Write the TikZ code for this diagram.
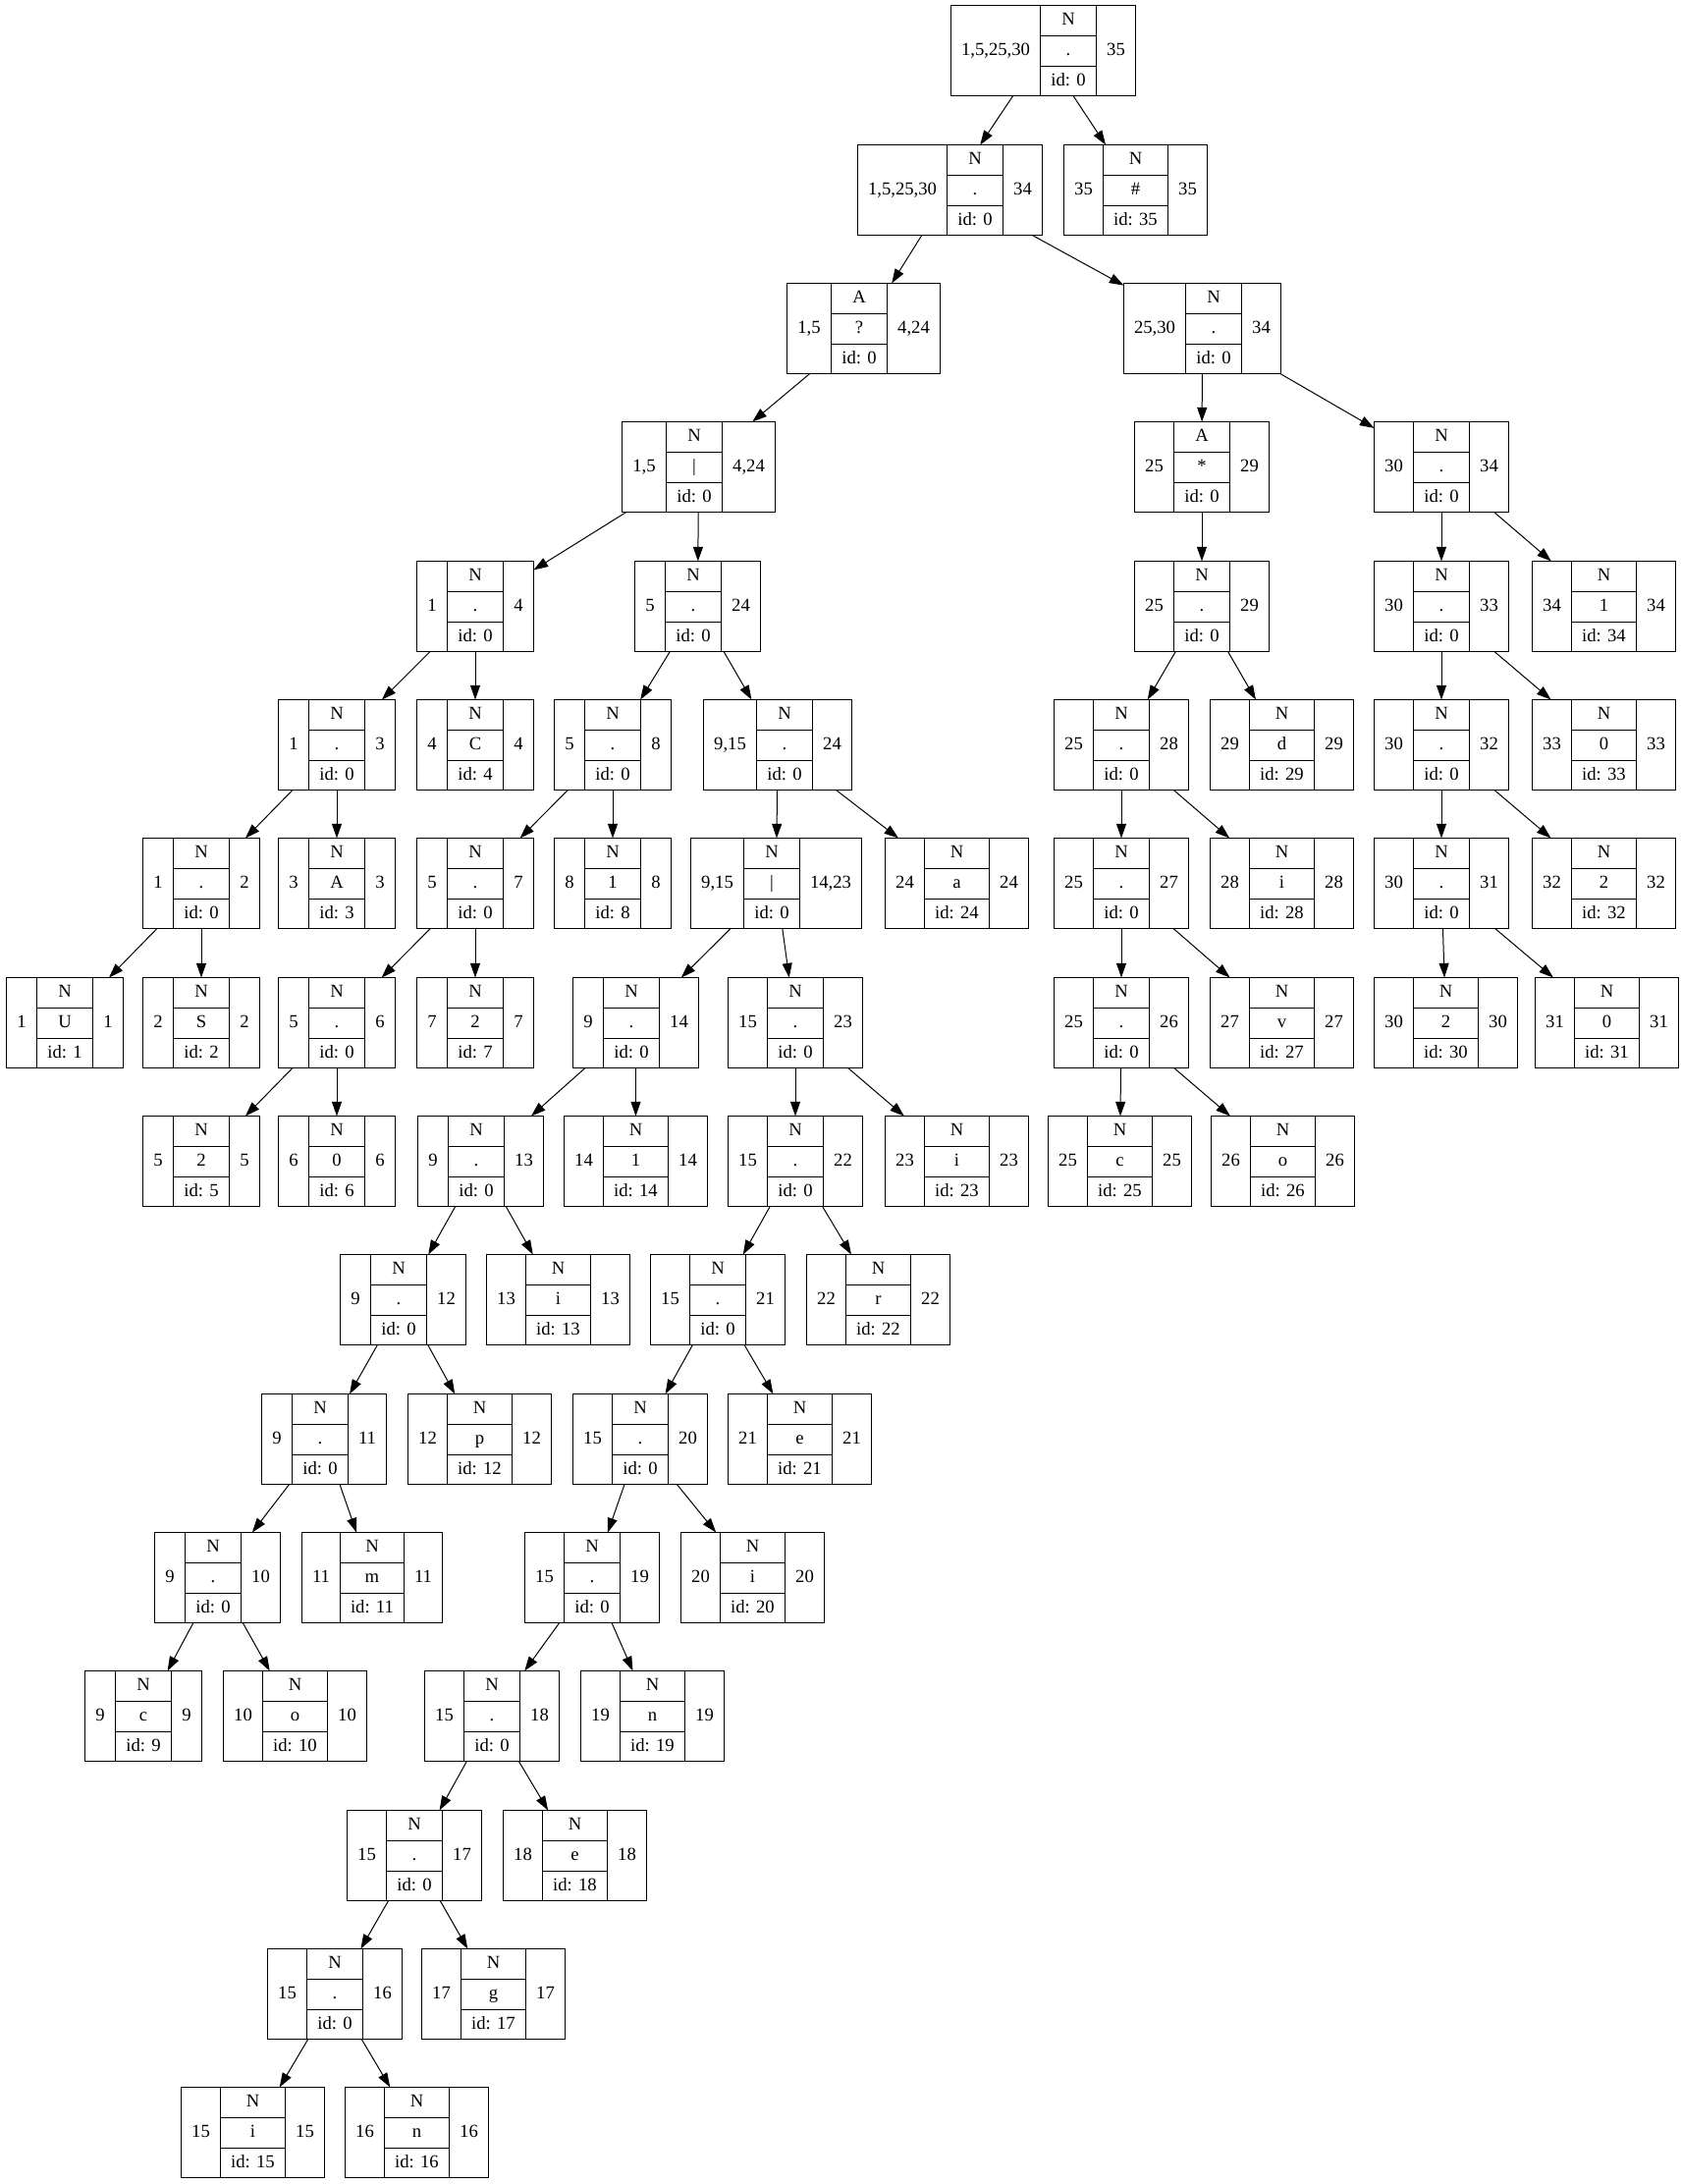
\documentclass[tikz,border=0pt]{standalone}
\usepackage{fontspec}
\setmainfont{Liberation Serif}
\usepackage{tikz}
\usetikzlibrary{arrows.meta, positioning, fit}

\newcommand{\recfont}{\fontsize{14pt}{16.8pt}\selectfont}
\newcommand{\recnode}[8]{%
    \pgfmathsetmacro{\leftw}{round((width("#4") + 16)/0.75)*0.75}%
    \pgfmathsetmacro{\rightw}{round((width("#8") + 16)/0.75)*0.75}%
    \pgfmathsetmacro{\midw}{round((max(width("#5"), width("#6"), width("id: #7")) + 16)/0.75)*0.75}%
    \pgfmathsetmacro{\xleft}{(round(#2/0.75) + 0.5)*0.75}%
    \pgfmathsetmacro{\ytop}{(round((4 + #3*106)/0.75) + 0.5)*0.75}%
    \node[side cell, minimum width=\leftw pt, anchor=north west] (#1-l) at (\xleft pt, -\ytop pt) {#4};
    \node[mid cell, minimum width=\midw pt, minimum height=23.25pt, anchor=north west] (#1-t) at (#1-l.north east) {#5};
    \node[mid cell, minimum width=\midw pt, minimum height=23.25pt, below=0pt of #1-t] (#1-m) {#6};
    \node[mid cell, minimum width=\midw pt, minimum height=22.5pt, below=0pt of #1-m] (#1-b) {id: #7};
    \node[side cell, minimum width=\rightw pt, anchor=north west] (#1-r) at (#1-t.north east) {#8};
    \node[fit=(#1-l)(#1-r), inner sep=0pt] (#1) {};
}

\begin{document}
\recfont
\begin{tikzpicture}[
            every node/.style={font=\recfont, text height=10pt, text depth=2.8pt, outer sep=0pt},
            side cell/.style={draw, line width=0.75pt, minimum height=69pt, inner sep=0pt},
            mid cell/.style={draw, line width=0.75pt, inner sep=0pt},
            edge style/.style={line width=0.75pt, -{Triangle[length=11pt, width=7.5pt]}}
            ]
            \useasboundingbox (0, 0) rectangle (1284pt, -1668pt);

            \recnode{l0}{726.0}{0}{1,5,25,30}{N}{.}{0}{35}

            \recnode{l1a}{654.7}{1}{1,5,25,30}{N}{.}{0}{34}
            \recnode{l1b}{812.1}{1}{35}{N}{\#}{35}{35}

            \recnode{l2a}{600.5}{2}{1,5}{A}{?}{0}{4,24}
            \recnode{l2b}{857.8}{2}{25,30}{N}{.}{0}{34}

            \recnode{l3a}{475.1}{3}{1,5}{N}{|}{0}{4,24}
            \recnode{l3b}{866.3}{3}{25}{A}{*}{0}{29}
            \recnode{l3c}{1049.1}{3}{30}{N}{.}{0}{34}

            \recnode{l4a}{317.8}{4}{1}{N}{.}{0}{4}
            \recnode{l4b}{484.7}{4}{5}{N}{.}{0}{24}
            \recnode{l4c}{866.3}{4}{25}{N}{.}{0}{29}
            \recnode{l4d}{1049.1}{4}{30}{N}{.}{0}{33}
            \recnode{l4e}{1170.3}{4}{34}{N}{1}{34}{34}

            \recnode{l5a}{212.6}{5}{1}{N}{.}{0}{3}
            \recnode{l5b}{317.8}{5}{4}{N}{C}{4}{4}
            \recnode{l5c}{423.0}{5}{5}{N}{.}{0}{8}
            \recnode{l5d}{536.8}{5}{9,15}{N}{.}{0}{24}
            \recnode{l5e}{804.6}{5}{25}{N}{.}{0}{28}
            \recnode{l5f}{923.7}{5}{29}{N}{d}{29}{29}
            \recnode{l5g}{1049.1}{5}{30}{N}{.}{0}{32}
            \recnode{l5h}{1170.3}{5}{33}{N}{0}{33}{33}

            \recnode{l6a}{108.4}{6}{1}{N}{.}{0}{2}
            \recnode{l6b}{212.6}{6}{3}{N}{A}{3}{3}
            \recnode{l6c}{317.8}{6}{5}{N}{.}{0}{7}
            \recnode{l6d}{423.0}{6}{8}{N}{1}{8}{8}
            \recnode{l6e}{527.2}{6}{9,15}{N}{|}{0}{14,23}
            \recnode{l6f}{676.0}{6}{24}{N}{a}{24}{24}
            \recnode{l6g}{804.6}{6}{25}{N}{.}{0}{27}
            \recnode{l6h}{923.7}{6}{28}{N}{i}{28}{28}
            \recnode{l6i}{1049.1}{6}{30}{N}{.}{0}{31}
            \recnode{l6j}{1170.3}{6}{32}{N}{2}{32}{32}

            \recnode{l7a}{4.3}{7}{1}{N}{U}{1}{1}
            \recnode{l7b}{108.4}{7}{2}{N}{S}{2}{2}
            \recnode{l7c}{212.6}{7}{5}{N}{.}{0}{6}
            \recnode{l7d}{317.8}{7}{7}{N}{2}{7}{7}
            \recnode{l7e}{436.9}{7}{9}{N}{.}{0}{14}
            \recnode{l7f}{555.9}{7}{15}{N}{.}{0}{23}
            \recnode{l7g}{804.6}{7}{25}{N}{.}{0}{26}
            \recnode{l7h}{923.7}{7}{27}{N}{v}{27}{27}
            \recnode{l7i}{1049.1}{7}{30}{N}{2}{30}{30}
            \recnode{l7j}{1172.4}{7}{31}{N}{0}{31}{31}

            \recnode{l8a}{108.4}{8}{5}{N}{2}{5}{5}
            \recnode{l8b}{212.6}{8}{6}{N}{0}{6}{6}
            \recnode{l8c}{318.9}{8}{9}{N}{.}{0}{13}
            \recnode{l8d}{430.5}{8}{14}{N}{1}{14}{14}
            \recnode{l8e}{555.9}{8}{15}{N}{.}{0}{22}
            \recnode{l8f}{676.0}{8}{23}{N}{i}{23}{23}
            \recnode{l8g}{800.4}{8}{25}{N}{c}{25}{25}
            \recnode{l8h}{924.7}{8}{26}{N}{o}{26}{26}

            \recnode{l9a}{259.3}{9}{9}{N}{.}{0}{12}
            \recnode{l9b}{371.0}{9}{13}{N}{i}{13}{13}
            \recnode{l9c}{496.4}{9}{15}{N}{.}{0}{21}
            \recnode{l9d}{615.4}{9}{22}{N}{r}{22}{22}

            \recnode{l10a}{199.8}{10}{9}{N}{.}{0}{11}
            \recnode{l10b}{311.4}{10}{12}{N}{p}{12}{12}
            \recnode{l10c}{436.9}{10}{15}{N}{.}{0}{20}
            \recnode{l10d}{555.9}{10}{21}{N}{e}{21}{21}

            \recnode{l11a}{118.0}{11}{9}{N}{.}{0}{10}
            \recnode{l11b}{230.6}{11}{11}{N}{m}{11}{11}
            \recnode{l11c}{400.7}{11}{15}{N}{.}{0}{19}
            \recnode{l11d}{519.8}{11}{20}{N}{i}{20}{20}

            \recnode{l12a}{64.8}{12}{9}{N}{c}{9}{9}
            \recnode{l12b}{170.1}{12}{10}{N}{o}{10}{10}
            \recnode{l12c}{324.2}{12}{15}{N}{.}{0}{18}
            \recnode{l12d}{443.2}{12}{19}{N}{n}{19}{19}

            \recnode{l13a}{264.7}{13}{15}{N}{.}{0}{17}
            \recnode{l13b}{383.7}{13}{18}{N}{e}{18}{18}

            \recnode{l14a}{204.1}{14}{15}{N}{.}{0}{16}
            \recnode{l14b}{322.1}{14}{17}{N}{g}{17}{17}

            \recnode{l15a}{138.2}{15}{15}{N}{i}{15}{15}
            \recnode{l15b}{263.6}{15}{16}{N}{n}{16}{16}

            \draw[edge style] (l0) -- (l1a);
            \draw[edge style] (l0) -- (l1b);
            \draw[edge style] (l1a) -- (l2a);
            \draw[edge style] (l1a) -- (l2b);
            \draw[edge style] (l2a) -- (l3a);
            \draw[edge style] (l3a) -- (l4a);
            \draw[edge style] (l3a) -- (l4b);
            \draw[edge style] (l4a) -- (l5a);
            \draw[edge style] (l4a) -- (l5b);
            \draw[edge style] (l5a) -- (l6a);
            \draw[edge style] (l5a) -- (l6b);
            \draw[edge style] (l6a) -- (l7a);
            \draw[edge style] (l6a) -- (l7b);
            \draw[edge style] (l4b) -- (l5c);
            \draw[edge style] (l4b) -- (l5d);
            \draw[edge style] (l5c) -- (l6c);
            \draw[edge style] (l5c) -- (l6d);
            \draw[edge style] (l6c) -- (l7c);
            \draw[edge style] (l6c) -- (l7d);
            \draw[edge style] (l7c) -- (l8a);
            \draw[edge style] (l7c) -- (l8b);
            \draw[edge style] (l5d) -- (l6e);
            \draw[edge style] (l5d) -- (l6f);
            \draw[edge style] (l6e) -- (l7e);
            \draw[edge style] (l6e) -- (l7f);
            \draw[edge style] (l7e) -- (l8c);
            \draw[edge style] (l7e) -- (l8d);
            \draw[edge style] (l8c) -- (l9a);
            \draw[edge style] (l8c) -- (l9b);
            \draw[edge style] (l9a) -- (l10a);
            \draw[edge style] (l9a) -- (l10b);
            \draw[edge style] (l10a) -- (l11a);
            \draw[edge style] (l10a) -- (l11b);
            \draw[edge style] (l11a) -- (l12a);
            \draw[edge style] (l11a) -- (l12b);
            \draw[edge style] (l7f) -- (l8e);
            \draw[edge style] (l7f) -- (l8f);
            \draw[edge style] (l8e) -- (l9c);
            \draw[edge style] (l8e) -- (l9d);
            \draw[edge style] (l9c) -- (l10c);
            \draw[edge style] (l9c) -- (l10d);
            \draw[edge style] (l10c) -- (l11c);
            \draw[edge style] (l10c) -- (l11d);
            \draw[edge style] (l11c) -- (l12c);
            \draw[edge style] (l11c) -- (l12d);
            \draw[edge style] (l12c) -- (l13a);
            \draw[edge style] (l12c) -- (l13b);
            \draw[edge style] (l13a) -- (l14a);
            \draw[edge style] (l13a) -- (l14b);
            \draw[edge style] (l14a) -- (l15a);
            \draw[edge style] (l14a) -- (l15b);
            \draw[edge style] (l2b) -- (l3b);
            \draw[edge style] (l2b) -- (l3c);
            \draw[edge style] (l3b) -- (l4c);
            \draw[edge style] (l4c) -- (l5e);
            \draw[edge style] (l4c) -- (l5f);
            \draw[edge style] (l5e) -- (l6g);
            \draw[edge style] (l5e) -- (l6h);
            \draw[edge style] (l6g) -- (l7g);
            \draw[edge style] (l6g) -- (l7h);
            \draw[edge style] (l7g) -- (l8g);
            \draw[edge style] (l7g) -- (l8h);
            \draw[edge style] (l3c) -- (l4d);
            \draw[edge style] (l3c) -- (l4e);
            \draw[edge style] (l4d) -- (l5g);
            \draw[edge style] (l4d) -- (l5h);
            \draw[edge style] (l5g) -- (l6i);
            \draw[edge style] (l5g) -- (l6j);
            \draw[edge style] (l6i) -- (l7i);
            \draw[edge style] (l6i) -- (l7j);
\end{tikzpicture}
\end{document}
